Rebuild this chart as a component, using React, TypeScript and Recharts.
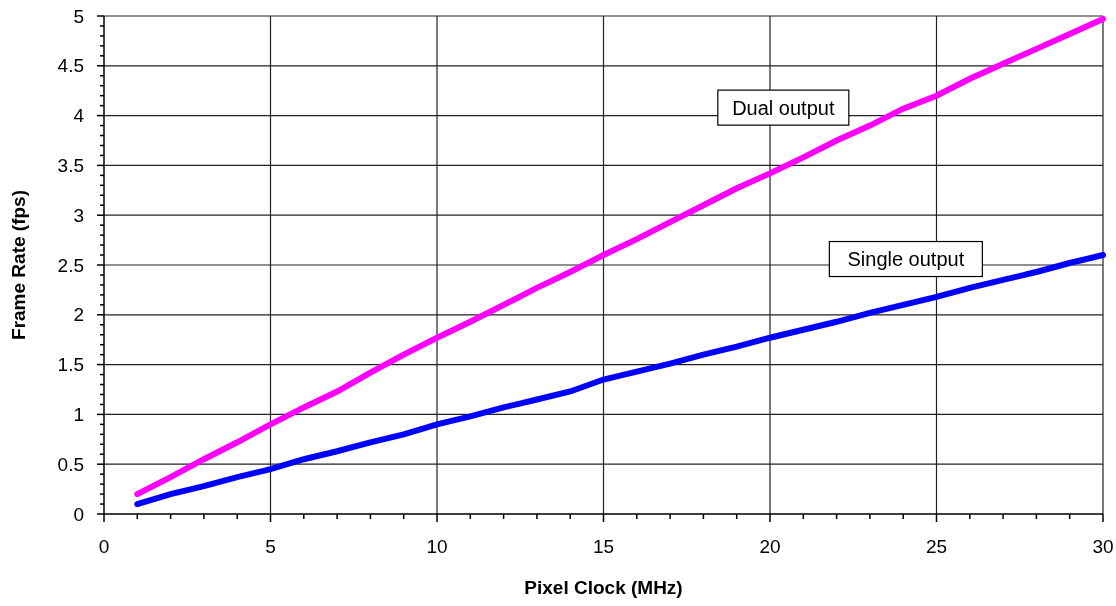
import React from 'react';
import { LineChart, Line, XAxis, YAxis, ReferenceLine, ReferenceDot } from 'recharts';

const pixelClock = [1, 2, 3, 4, 5, 6, 7, 8, 9, 10, 11, 12, 13, 14, 15, 16, 17, 18, 19, 20, 21, 22, 23, 24, 25, 26, 27, 28, 29, 30];
const dualOutput = [0.2, 0.37, 0.55, 0.72, 0.9, 1.07, 1.23, 1.42, 1.6, 1.77, 1.93, 2.1, 2.27, 2.43, 2.6, 2.76, 2.93, 3.1, 3.27, 3.42, 3.58, 3.75, 3.9, 4.07, 4.2, 4.37, 4.52, 4.67, 4.82, 4.97];
const singleOutput = [0.1, 0.2, 0.28, 0.37, 0.45, 0.55, 0.63, 0.72, 0.8, 0.9, 0.98, 1.07, 1.15, 1.23, 1.35, 1.43, 1.51, 1.6, 1.68, 1.77, 1.85, 1.93, 2.02, 2.1, 2.18, 2.27, 2.35, 2.43, 2.52, 2.6];

const xTicks = [0, 1, 2, 3, 4, 5, 6, 7, 8, 9, 10, 11, 12, 13, 14, 15, 16, 17, 18, 19, 20, 21, 22, 23, 24, 25, 26, 27, 28, 29, 30];
const xMajor = [0, 5, 10, 15, 20, 25, 30];
const yMajor = [0, 0.5, 1, 1.5, 2, 2.5, 3, 3.5, 4, 4.5, 5];
// minor ticks every 0.1
const yTicks = Array.from({ length: 51 }, (_, i) => i / 10);

const annotations = [
  { label: 'Dual output', x: 20.4, y: 4.08 },
  { label: 'Single output', x: 24.08, y: 2.56 },
];

const data = pixelClock.map((x, i) => ({ x, dual: dualOutput[i], single: singleOutput[i] }));

const FONT = 'Arial, "Liberation Sans", Helvetica, sans-serif';

const isMajorY = (v: number) => yMajor.some((m) => Math.abs(m - v) < 1e-6);
const isMajorX = (v: number) => xMajor.includes(v);

const YTick = (props: any) => {
  const { x, y, payload } = props;
  const major = isMajorY(payload.value);
  return (
    <g>
      <line x1={x - (major ? 7 : 4)} x2={x} y1={y} y2={y} stroke="#000" strokeWidth={1.5} />
      {major && (
        <text x={x - 20} y={y} textAnchor="end" dominantBaseline="central" fontFamily={FONT} fontSize={19} fill="#000">
          {payload.value}
        </text>
      )}
    </g>
  );
};

const XTick = (props: any) => {
  const { x, y, payload } = props;
  const major = isMajorX(payload.value);
  return (
    <g>
      <line x1={x} x2={x} y1={y} y2={y + (major ? 8 : 5)} stroke="#000" strokeWidth={1.5} />
      {major && (
        <text x={x} y={y + 32} textAnchor="middle" dominantBaseline="central" fontFamily={FONT} fontSize={19} fill="#000">
          {payload.value}
        </text>
      )}
    </g>
  );
};

const AnnotationBox = (label: string) => (props: any) => {
  const { cx, cy } = props;
  const w = label.length * 11 + 10;
  const h = 35;
  return (
    <g>
      <rect x={cx - w / 2} y={cy - h / 2} width={w} height={h} fill="#fff" stroke="#000" strokeWidth={1.2} />
      <text x={cx} y={cy} textAnchor="middle" dominantBaseline="central" fontFamily={FONT} fontSize={20} fill="#000">
        {label}
      </text>
    </g>
  );
};

export default function App() {
  return (
    <div style={{ position: 'fixed', left: 8, top: 0, width: 1108, height: 598 }}>
      <LineChart width={1108} height={598} data={data} margin={{ top: 16, right: 13, left: 0, bottom: 0 }}>
        {xMajor.filter((v) => v > 0).map((v) => (
          <ReferenceLine key={'vx' + v} x={v} stroke="#222" strokeWidth={1.2} />
        ))}
        {yMajor.filter((v) => v > 0).map((v) => (
          <ReferenceLine key={'hy' + v} y={v} stroke="#222" strokeWidth={1.2} />
        ))}
        <XAxis
          dataKey="x"
          type="number"
          domain={[0, 30]}
          ticks={xTicks}
          interval={0}
          height={84}
          tickSize={0}
          tickMargin={0}
          tickLine={false}
          tick={<XTick />}
          axisLine={{ stroke: '#000', strokeWidth: 1.5 }}
          label={{
            content: (p: any) => {
              const vb = p.viewBox;
              return (
                <text
                  x={vb.x + vb.width / 2}
                  y={vb.y + 80}
                  textAnchor="middle"
                  fontFamily={FONT}
                  fontSize={19}
                  fontWeight="bold"
                  fill="#000"
                >
                  Pixel Clock (MHz)
                </text>
              );
            },
          }}
        />
        <YAxis
          type="number"
          domain={[0, 5]}
          ticks={yTicks}
          interval={0}
          width={96}
          tickSize={0}
          tickMargin={0}
          tickLine={false}
          tick={<YTick />}
          axisLine={{ stroke: '#000', strokeWidth: 1.5 }}
          label={{
            content: (p: any) => {
              const vb = p.viewBox;
              const cx = vb.x + 10;
              const cy = vb.y + vb.height / 2;
              return (
                <text
                  x={cx}
                  y={cy}
                  transform={`rotate(-90, ${cx}, ${cy})`}
                  textAnchor="middle"
                  dominantBaseline="central"
                  fontFamily={FONT}
                  fontSize={19}
                  fontWeight="bold"
                  fill="#000"
                >
                  Frame Rate (fps)
                </text>
              );
            },
          }}
        />
        <Line
          type="linear"
          dataKey="dual"
          stroke="#ff00ff"
          strokeWidth={6}
          strokeLinecap="round"
          dot={false}
          isAnimationActive={false}
        />
        <Line
          type="linear"
          dataKey="single"
          stroke="#0000ff"
          strokeWidth={6}
          strokeLinecap="round"
          dot={false}
          isAnimationActive={false}
        />
        {annotations.map((a) => (
          <ReferenceDot key={a.label} x={a.x} y={a.y} r={0} shape={AnnotationBox(a.label)} />
        ))}
      </LineChart>
    </div>
  );
}
